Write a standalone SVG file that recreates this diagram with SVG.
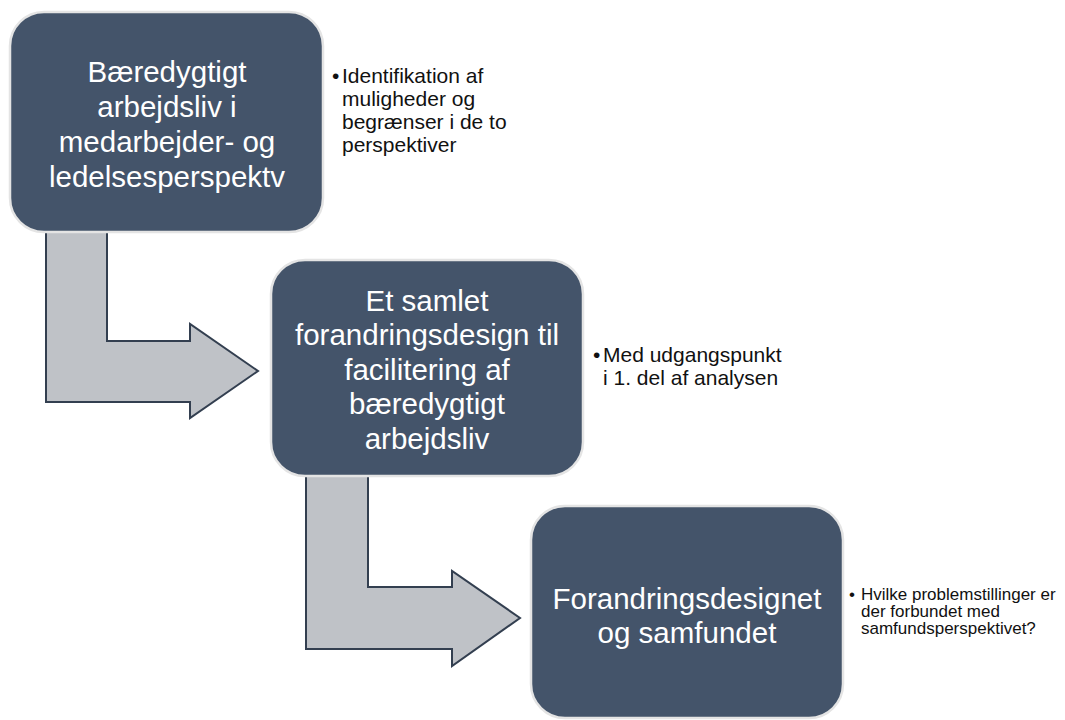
<svg xmlns="http://www.w3.org/2000/svg" width="1065" height="720" viewBox="0 0 1065 720">
<style>
.box{fill:#44546a;stroke:#e4e4e4;stroke-width:2.5}
.arrow{fill:#bfc2c7;stroke:#333f50;stroke-width:2;stroke-linejoin:miter}
.bt{font-family:"Liberation Sans",Arial,sans-serif;font-size:29.5px;fill:#ffffff;text-anchor:middle}
.note{font-family:"Liberation Sans",Arial,sans-serif;font-size:21px;fill:#111111}
.note-s{font-family:"Liberation Sans",Arial,sans-serif;font-size:17px;fill:#111111}
</style>
<rect width="1065" height="720" fill="#ffffff"/>
<g id="connectors">
<path class="arrow" d="M46,226 L46,402 L190,402 L190,418 L258,371 L190,324 L190,341 L107,341 L107,226 Z"/>
<path class="arrow" d="M306,470 L306,649 L452,649 L452,666 L520,618 L452,571 L452,587 L368,587 L368,470 Z"/>
</g>
<g id="node1">
<rect class="box" x="10" y="12" width="313" height="220" rx="34"/>
<text class="bt" x="167" y="82">Bæredygtigt</text>
<text class="bt" x="167" y="117">arbejdsliv i</text>
<text class="bt" x="167" y="152">medarbejder- og</text>
<text class="bt" x="167" y="187">ledelsesperspektv</text>
</g>
<g id="note1">
<text class="note" x="332" y="83">•</text>
<text class="note" x="342" y="83">Identifikation af</text>
<text class="note" x="342" y="106">muligheder og</text>
<text class="note" x="342" y="129">begrænser i de to</text>
<text class="note" x="342" y="152">perspektiver</text>
</g>
<g id="node2">
<rect class="box" x="271" y="260" width="312" height="216" rx="34"/>
<text class="bt" x="427" y="311">Et samlet</text>
<text class="bt" x="427" y="345">forandringsdesign til</text>
<text class="bt" x="427" y="380">facilitering af</text>
<text class="bt" x="427" y="414">bæredygtigt</text>
<text class="bt" x="427" y="449">arbejdsliv</text>
</g>
<g id="note2">
<text class="note" x="593" y="362">•</text>
<text class="note" x="603" y="362">Med udgangspunkt</text>
<text class="note" x="603" y="385">i 1. del af analysen</text>
</g>
<g id="node3">
<rect class="box" x="531" y="506" width="312" height="212" rx="34"/>
<text class="bt" x="687" y="609">Forandringsdesignet</text>
<text class="bt" x="687" y="643">og samfundet</text>
</g>
<g id="note3">
<text class="note-s" x="849" y="600">•</text>
<text class="note-s" x="861" y="600">Hvilke problemstillinger er</text>
<text class="note-s" x="861" y="617">der forbundet med</text>
<text class="note-s" x="861" y="634">samfundsperspektivet?</text>
</g>
</svg>
